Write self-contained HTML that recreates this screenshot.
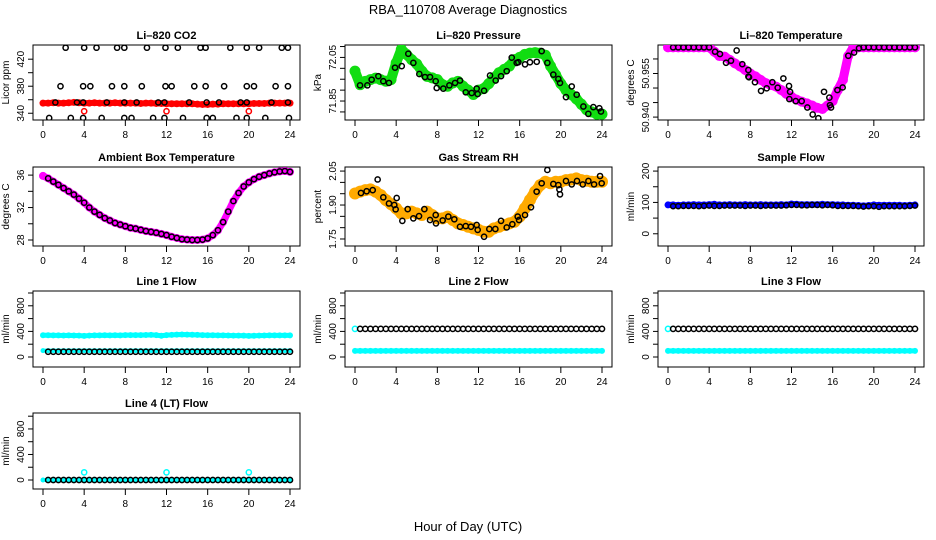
<!DOCTYPE html>
<html>
<head>
<meta charset="utf-8">
<style>
html,body{margin:0;padding:0;background:#fff;}
svg{display:block;font-family:"Liberation Sans",Arial,sans-serif;}
.tt{font-size:11px;font-weight:bold;text-anchor:middle;}
.tk{font-size:10px;text-anchor:middle;}
</style>
</head>
<body>
<svg id="chart" width="936" height="540" viewBox="0 0 936 540">
<rect x="0" y="0" width="936" height="540" fill="#fff"/>
<text x="468" y="14" font-size="13" text-anchor="middle">RBA_110708  Average Diagnostics</text>
<text x="468" y="531" font-size="13" text-anchor="middle">Hour of Day (UTC)</text>
</svg>
<script>
const H = [0,0.5,1,1.5,2,2.5,3,3.5,4,4.5,5,5.5,6,6.5,7,7.5,8,8.5,9,9.5,10,10.5,11,11.5,12,12.5,13,13.5,14,14.5,15,15.5,16,16.5,17,17.5,18,18.5,19,19.5,20,20.5,21,21.5,22,22.5,23,23.5,24];
const xTicks = [0,4,8,12,16,20,24];

const co2Red = [355,355,355.5,355,355,355.5,356,355.5,355,355,
355.5,355,355,355,355.5,355,355,355,355,354.5,
355,355,354.5,354.5,354,354,354,354,354,354,
353.5,353,353,353.5,353.5,354,354,354,354,354,
354,354.5,354.5,354.5,355,355,355,355,355];
const co2OutHours = [4,12,20];
const co2OutVals = [343,343,343];
const co2BlkHours = [2.2,4.0,5.2,7.2,7.9,10.1,11.9,13.1,15.3,15.8,18.2,19.8,21.0,23.2,23.8,
1.7,3.9,4.6,6.7,7.9,9.6,11.9,12.5,14.7,15.8,17.6,19.8,20.5,22.6,23.8,
1.2,3.3,3.9,6.2,7.9,9.1,11.2,11.8,14.2,15.9,17.1,19.2,19.8,22.2,23.8,
0.6,2.7,3.9,5.7,7.9,8.6,10.7,11.8,13.6,15.9,16.5,18.8,19.8,21.6,23.9];
const co2BlkVals = [437,437,437,437,437,437,437,437,437,437,437,437,437,437,437,
380,380,380,380,380,380,380,380,380,380,380,380,380,380,380,
356,356,356,356,356,356,356,356,356,356,356,356,356,356,356,
333,333,333,333,333,333,333,333,333,333,333,333,333,333,333];

const presGreen = [71.987,71.925,71.94,71.948,71.955,71.948,71.941,71.948,72.025,72.087,
72.064,72.04,72.02,71.987,71.963,71.956,71.948,71.925,71.918,71.933,
71.94,71.918,71.9,71.88,71.9,71.907,71.93,71.956,71.98,71.995,
72.01,72.04,72.05,72.064,72.07,72.072,72.07,72.06,72.01,71.97,
71.93,71.9,71.88,71.86,71.835,71.81,71.8,71.79,71.79];
const presBlkHours = [0.49,1.2,1.62,2.27,2.75,3.3,3.89,4.54,5.18,5.67,6.25,6.8,7.29,7.84,7.94,8.58,9.17,9.72,10.2,10.76,11.34,11.82,11.92,12.54,13.12,13.67,14.19,14.74,15.23,15.71,15.87,16.52,17.0,17.66,18.14,18.69,19.27,19.76,19.92,20.5,21.06,21.54,22.19,22.67,23.16,23.74,23.9];
const presBlkVals = [71.922,71.922,71.948,71.964,71.941,71.933,72.003,72.01,72.067,72.025,71.974,71.96,71.96,71.941,71.91,71.907,71.922,71.933,71.944,71.89,71.887,71.907,71.882,71.897,71.967,71.944,71.964,71.987,72.049,72.025,72.028,72.018,72.028,72.03,72.079,72.025,71.971,71.951,71.933,71.868,71.917,71.879,71.825,71.791,71.822,71.817,71.802];

const tempMag = [50.964,50.964,50.964,50.964,50.964,50.964,50.964,50.964,50.964,50.9625,
50.961,50.9608,50.9597,50.9585,50.9574,50.9562,50.955,50.954,50.9528,50.9517,
50.951,50.9505,50.9493,50.948,50.947,50.946,50.9453,50.9447,50.944,50.9432,
50.9428,50.944,50.9455,50.9493,50.9528,50.961,50.964,50.964,50.964,50.964,
50.964,50.964,50.964,50.964,50.964,50.964,50.964,50.964,50.964];
const tempBlkHours = [0.5,1,1.5,2,2.5,3,3.5,4,4.57,5.05,5.64,6.12,6.67,7.22,7.81,7.81,7.87,8.45,9.04,9.59,10.14,10.66,11.21,11.76,11.86,11.79,12.41,12.99,13.54,14.06,14.61,15.16,15.68,15.74,15.84,16.46,16.97,17.52,18.08,18.56,19,19.5,20,20.5,21,21.5,22,22.5,23,23.5,24];
const tempBlkVals = [50.964,50.964,50.964,50.964,50.964,50.964,50.964,50.964,50.9625,50.9617,50.9587,50.9594,50.9629,50.9582,50.9562,50.9539,50.9537,50.952,50.949,50.9499,50.952,50.9501,50.9533,50.9507,50.9487,50.9462,50.9455,50.9455,50.9433,50.9409,50.9396,50.9487,50.9467,50.9441,50.9433,50.9493,50.9502,50.9611,50.9622,50.9637,50.964,50.964,50.964,50.964,50.964,50.964,50.964,50.964,50.964,50.964,50.964];

const ambient = [35.9,35.6,35.2,34.8,34.4,34.0,33.6,33.1,32.6,32.0,
31.5,31.1,30.7,30.4,30.1,29.9,29.7,29.5,29.4,29.25,
29.1,29.0,28.9,28.75,28.6,28.4,28.25,28.1,28.05,28.0,
28.0,28.05,28.2,28.6,29.2,30.2,31.5,32.8,33.8,34.6,
35.1,35.5,35.8,36.0,36.2,36.35,36.45,36.5,36.4];

const rhBand = [1.951,1.959,1.966,1.969,1.959,1.944,1.922,1.904,1.885,1.863,
1.863,1.871,1.863,1.856,1.871,1.856,1.841,1.841,1.849,1.834,
1.819,1.812,1.804,1.797,1.790,1.782,1.782,1.797,1.804,1.812,
1.819,1.826,1.849,1.885,1.922,1.959,1.988,2.003,1.996,2.003,
2.003,2.010,2.013,2.018,2.010,2.007,2.003,2.003,2.003];
const rhBlkHours = [0.58,1.13,1.72,2.2,2.75,3.3,3.82,3.95,4.05,4.6,5.12,5.67,6.22,6.74,7.29,7.84,7.87,8.52,9.07,9.65,10.2,10.76,11.27,11.82,11.92,12.54,13.05,13.64,14.19,14.74,15.29,15.81,15.94,16.52,17.1,17.65,18.14,18.69,19.27,19.76,19.86,19.92,20.5,21.06,21.57,22.13,22.68,23.23,23.81,23.97];
const rhBlkVals = [1.953,1.961,1.966,2.013,1.934,1.907,1.900,1.881,1.931,1.830,1.882,1.841,1.851,1.882,1.834,1.856,1.819,1.832,1.849,1.837,1.804,1.807,1.804,1.812,1.790,1.760,1.794,1.794,1.830,1.801,1.815,1.849,1.834,1.856,1.89,1.959,1.996,2.055,1.993,1.988,1.969,1.947,2.006,1.991,2.006,1.991,2.006,1.991,2.028,1.996];

const sampleBlue = [92,92,91,92,92,93,92,92,93,94,92,92,93,92,92,93,92,92,93,92,92,92,93,92,95,94,93,93,93,93,94,93,93,92,92,91,91,90,89,90,92,91,91,91,91,91,90,91,92];
const sampleBlk = [88,88,89,89,89,88,89,90,89,89,90,90,90,90,89,90,90,89,90,90,90,90,91,92,92,91,91,92,92,91,92,91,89,89,89,89,88,87,88,88,86,88,88,88,88,88,89,90];

const l1CyanHi = [340,340,338,338,336,338,336,335,330,335,338,338,340,338,340,338,342,342,342,342,344,345,342,332,342,345,350,352,350,348,345,342,340,340,338,338,336,335,335,334,330,332,335,336,338,338,338,338,338];
const l1CyanLo = [100,100,100,100,100,100,100,100,100,100,100,100,100,100,100,100,100,100,100,100,100,100,100,100,100,100,100,100,100,100,100,100,100,100,100,100,100,100,100,100,100,100,100,100,100,100,100,100,100];
const l1Blk = [82,82,82,82,82,82,82,82,82,82,82,82,82,82,82,82,82,82,82,82,82,82,82,82,82,82,82,82,82,82,82,82,82,82,82,82,82,82,82,82,82,82,82,82,82,82,82,82];

const l2Cyan = [95,95,95,95,95,95,95,95,95,95,95,95,95,95,95,95,95,95,95,95,95,95,95,95,95,95,95,95,95,95,95,95,95,95,95,95,95,95,95,95,95,95,95,95,95,95,95,95,95];
const l2Blk = [440,440,440,440,440,440,440,440,440,440,440,440,440,440,440,440,440,440,440,440,440,440,440,440,440,440,440,440,440,440,440,440,440,440,440,440,440,440,440,440,440,440,440,440,440,440,440,440];
const l3Cyan = [95,95,95,95,95,95,95,95,95,95,95,95,95,95,95,95,95,95,95,95,95,95,95,95,95,95,95,95,95,95,95,95,95,95,95,95,95,95,95,95,95,95,95,95,95,95,95,95,95];
const l3Blk = [440,440,440,440,440,440,440,440,440,440,440,440,440,440,440,440,440,440,440,440,440,440,440,440,440,440,440,440,440,440,440,440,440,440,440,440,440,440,440,440,440,440,440,440,440,440,440,440];
const flowStartHour = [0];
const flowStartVal = [440];

const l4Cyan = [0,0,0,0,0,0,0,0,0,0,0,0,0,0,0,0,0,0,0,0,0,0,0,0,0,0,0,0,0,0,0,0,0,0,0,0,0,0,0,0,0,0,0,0,0,0,0,0,0];
const l4Blk = [0,0,0,0,0,0,0,0,0,0,0,0,0,0,0,0,0,0,0,0,0,0,0,0,0,0,0,0,0,0,0,0,0,0,0,0,0,0,0,0,0,0,0,0,0,0,0,0];
const l4OutHours = [4,12,20];
const l4OutVals = [120,120,120];

const flowTicks = [0,200,400,600,800,1000];
const flowLabels = ["0","","400","","800",""];

const svg = document.getElementById('chart');
const NS = 'http://www.w3.org/2000/svg';
function mk(tag, attrs, name, parent) {
  const el = document.createElementNS(NS, tag);
  for (const k in attrs) el.setAttribute(k, attrs[k]);
  
  
  (parent || svg).appendChild(el);
  return el;
}
const cols = [{x0:43,L:33,R:300},{x0:355,L:345,R:612},{x0:668,L:658,R:924}];
const rows = [{T:45,B:120},{T:167,B:246},{T:291,B:367},{T:413,B:489}];

function panel(name, col, row, ylim, yticks, ylabels, ylab, title) {
  const c = cols[col], r = rows[row];
  const g = mk('g', {}, name + '-panel');
  const xs = h => c.x0 + h * 247 / 24;
  const ys = v => r.B - (v - ylim[0]) / (ylim[1] - ylim[0]) * (r.B - r.T);
  mk('text', {x:(c.L + c.R) / 2, y:r.T - 6, class:'tt'}, name + '-title', g).textContent = title;
  mk('rect', {x:c.L, y:r.T, width:c.R - c.L, height:r.B - r.T, fill:'none', stroke:'#000', 'stroke-width':1}, name + '-plot-box', g);
  xTicks.forEach(t => {
    mk('line', {x1:xs(t), x2:xs(t), y1:r.B, y2:r.B + 6, stroke:'#000'}, name + '-x-tick', g);
    mk('text', {x:xs(t), y:r.B + 18, class:'tk'}, name + '-x-tick-label', g).textContent = t;
  });
  yticks.forEach((t, i) => {
    mk('line', {x1:c.L - 5, x2:c.L, y1:ys(t), y2:ys(t), stroke:'#000'}, name + '-y-tick', g);
    if (ylabels[i]) {
      const tx = c.L - 9;
      mk('text', {x:tx, y:ys(t), class:'tk', transform:'rotate(-90 ' + tx + ' ' + ys(t) + ')'}, name + '-y-tick-label', g).textContent = ylabels[i];
    }
  });
  const lx = c.L - 24, ly = (r.T + r.B) / 2;
  mk('text', {x:lx, y:ly, class:'tk', transform:'rotate(-90 ' + lx + ' ' + ly + ')'}, name + '-y-axis-title', g).textContent = ylab;
  const clip = mk('clipPath', {id:'clip-' + name}, name + '-clip', g);
  mk('rect', {x:c.L, y:r.T, width:c.R - c.L, height:r.B - r.T}, name + '-clip-rect', clip);
  const data = mk('g', {'clip-path':'url(#clip-' + name + ')'}, name + '-data', g);
  return {
    band(hours, vals, color, w, sname) {
      const pts = hours.map((h, i) => xs(h) + ',' + ys(vals[i])).join(' ');
      mk('polyline', {points:pts, fill:'none', stroke:color, 'stroke-width':w, 'stroke-linejoin':'round', 'stroke-linecap':'round'}, sname, data);
      hours.forEach((h, i) => mk('circle', {cx:xs(h), cy:ys(vals[i]), r:w / 2 + 0.5, fill:color}, sname + '-point', data));
    },
    pts(hours, vals, color, sname) {
      hours.forEach((h, i) => mk('circle', {cx:xs(h), cy:ys(vals[i]), r:2.6, fill:'none', stroke:color, 'stroke-width':1.5}, sname, data));
    }
  };
}
const Hb = H.slice(1);

let p = panel('co2', 0, 0, [330, 441], [340,360,380,400,420], ['340','','380','','420'], 'Licor ppm', 'Li\u2013820 CO2');
p.band(H, co2Red, '#ff0000', 6, 'co2-red-series');
p.pts(co2OutHours, co2OutVals, '#ff0000', 'co2-red-outlier');
p.pts(co2BlkHours, co2BlkVals, '#000', 'co2-black-point');

p = panel('pressure', 1, 0, [71.763, 72.107], [71.80,71.85,71.90,71.95,72.00,72.05,72.10], ['','71.85','','','','72.05',''], 'kPa', 'Li\u2013820 Pressure');
p.band(H, presGreen, '#11dd11', 10, 'pressure-green-series');
p.pts(presBlkHours, presBlkVals, '#000', 'pressure-black-point');

p = panel('temperature', 2, 0, [50.939, 50.9648], [50.940,50.945,50.950,50.955,50.960], ['50.940','','','50.955',''], 'degrees C', 'Li\u2013820 Temperature');
p.band(H, tempMag, '#ff00ff', 9, 'temperature-magenta-series');
p.pts(tempBlkHours, tempBlkVals, '#000', 'temperature-black-point');

p = panel('ambient', 0, 1, [27.26, 37.0], [28,30,32,34,36], ['28','','32','','36'], 'degrees C', 'Ambient Box Temperature');
p.band(H, ambient, '#ff00ff', 7, 'ambient-magenta-series');
p.pts(Hb, ambient.slice(1), '#000', 'ambient-black-point');

p = panel('rh', 1, 1, [1.719, 2.068], [1.75,1.80,1.85,1.90,1.95,2.00,2.05], ['1.75','','','1.90','','','2.05'], 'percent', 'Gas Stream RH');
p.band(H, rhBand, '#ffaa00', 11, 'rh-orange-series');
p.pts(rhBlkHours, rhBlkVals, '#000', 'rh-black-point');

p = panel('sample', 2, 1, [-39, 213], [0,50,100,150,200], ['0','','100','','200'], 'ml/min', 'Sample Flow');
p.band(H, sampleBlue, '#0000ff', 6, 'sample-blue-series');
p.pts(Hb, sampleBlk, '#000', 'sample-black-point');

p = panel('line1', 0, 2, [-156, 1031], flowTicks, flowLabels, 'ml/min', 'Line 1 Flow');
p.band(H, l1CyanHi, '#00ffff', 5, 'line1-cyan-high-series');
p.band(H, l1CyanLo, '#00ffff', 4, 'line1-cyan-low-series');
p.pts(Hb, l1Blk, '#000', 'line1-black-point');

p = panel('line2', 1, 2, [-156, 1031], flowTicks, flowLabels, 'ml/min', 'Line 2 Flow');
p.band(H, l2Cyan, '#00ffff', 5, 'line2-cyan-series');
p.pts(flowStartHour, flowStartVal, '#00ffff', 'line2-cyan-start');
p.pts(Hb, l2Blk, '#000', 'line2-black-point');

p = panel('line3', 2, 2, [-156, 1031], flowTicks, flowLabels, 'ml/min', 'Line 3 Flow');
p.band(H, l3Cyan, '#00ffff', 5, 'line3-cyan-series');
p.pts(flowStartHour, flowStartVal, '#00ffff', 'line3-cyan-start');
p.pts(Hb, l3Blk, '#000', 'line3-black-point');

p = panel('line4', 0, 3, [-141, 1050], flowTicks, flowLabels, 'ml/min', 'Line 4 (LT) Flow');
p.band(H, l4Cyan, '#00ffff', 4, 'line4-cyan-series');
p.pts(l4OutHours, l4OutVals, '#00ffff', 'line4-cyan-outlier');
p.pts(Hb, l4Blk, '#000', 'line4-black-point');
</script>
</body>
</html>
